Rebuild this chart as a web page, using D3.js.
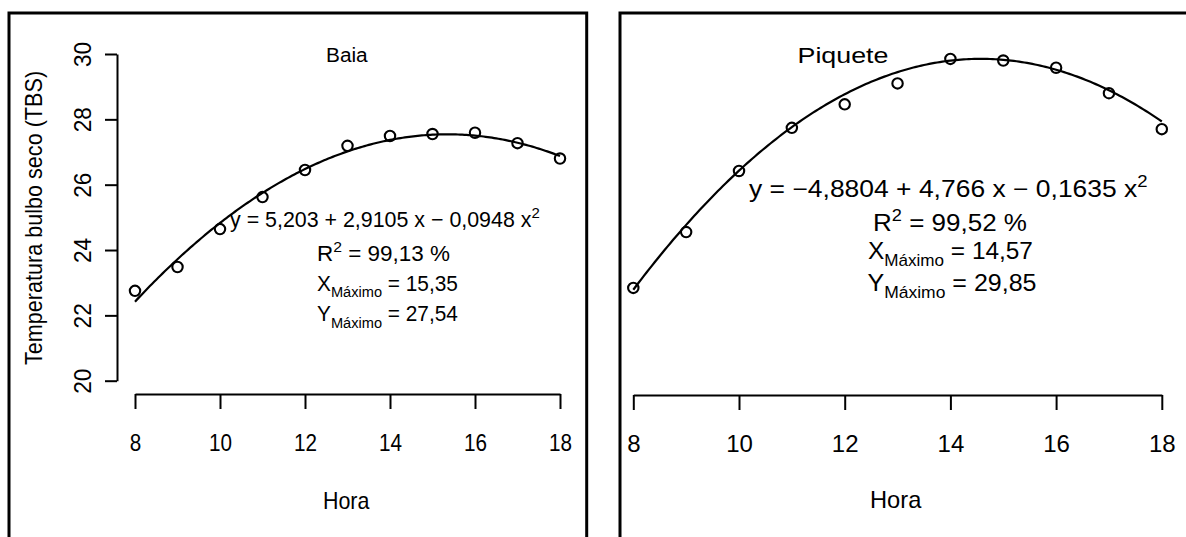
<!DOCTYPE html>
<html>
<head>
<meta charset="utf-8">
<script src="https://cdn.jsdelivr.net/npm/d3@7"></script>
<style>
  html, body { margin: 0; padding: 0; background: #ffffff; }
  svg { display: block; }
  text { font-family: "Liberation Sans", Arial, Helvetica, sans-serif; fill: #000; }
</style>
</head>
<body>
<script>
// ---------------- DATA ----------------
const hours = [8, 9, 10, 11, 12, 13, 14, 15, 16, 17, 18];
const baiaTBS = [22.75, 23.48, 24.64, 25.62, 26.45, 27.19, 27.49, 27.55, 27.59, 27.27, 26.80];
const piqueteTBS = [22.84, 24.55, 26.42, 27.74, 28.46, 29.10, 29.85, 29.80, 29.58, 28.80, 27.70];
const baiaCoef = [5.203, 2.9105, -0.0948];
const piqueteCoef = [-4.8804, 4.766, -0.1635];
const xTicks = [8, 10, 12, 14, 16, 18];
const yTicks = [20, 22, 24, 26, 28, 30];
const panelTitles = ["Baia", "Piquete"];
const xTitle = "Hora";
const yTitle = "Temperatura bulbo seco (TBS)";
const baiaStats = { eq: "y = 5,203 + 2,9105 x \u2212 0,0948 x", r2: " = 99,13 %", xmax: " = 15,35", ymax: " = 27,54" };
const piqueteStats = { eq: "y = \u22124,8804 + 4,766 x \u2212 0,1635 x", r2: " = 99,52 %", xmax: " = 14,57", ymax: " = 29,85" };

// ---------------- SETUP ----------------
const W = 1186, H = 537;
const svg = d3.select("body").append("svg").attr("width", W).attr("height", H);
svg.append("rect").attr("width", W).attr("height", H).attr("fill", "#fff");

const y = d3.scaleLinear().domain([20, 30]).range([380.7, 54]);
const xL = d3.scaleLinear().domain([8, 18]).range([135, 560]);
const xR = d3.scaleLinear().domain([8, 18]).range([633.3, 1161.8]);

// panel borders
svg.append("rect").attr("x", 9).attr("y", 13).attr("width", 577.7).attr("height", 600)
  .attr("fill", "none").attr("stroke", "#000").attr("stroke-width", 3);
svg.append("rect").attr("x", 620).attr("y", 13).attr("width", 700).attr("height", 600)
  .attr("fill", "none").attr("stroke", "#000").attr("stroke-width", 3);

// text helper: parts = [{t, k:'n'|'sup'|'sub'}]
function fitText(parts, cx, baseline, targetW, fs) {
  const t = svg.append("text").attr("font-size", fs).attr("x", 0).attr("y", 0);
  let shift = 0;
  parts.forEach(p => {
    const ts = t.append("tspan").text(p.t);
    let target = 0, size = fs;
    if (p.k === "sup") { target = -0.42 * fs; size = 0.7 * fs; }
    if (p.k === "sub") { target = 0.3 * fs; size = 0.7 * fs; }
    ts.attr("font-size", size).attr("dy", target - shift);
    shift = target;
  });
  const bb = t.node().getBBox();
  const s = targetW ? targetW / bb.width : 1;
  const w = targetW || bb.width;
  t.attr("transform", `translate(${cx - w / 2 - bb.x * s},${baseline}) scale(${s},1)`);
  return t;
}

function drawPanel(xs, vals, coef, opts) {
  // curve from regression coefficients
  const fx = h => coef[0] + coef[1] * h + coef[2] * h * h;
  const curveX = d3.range(8, 18.0001, 0.05);
  svg.append("path")
    .datum(curveX)
    .attr("d", d3.line().x(d => xs(d)).y(d => y(fx(d))).curve(d3.curveLinear))
    .attr("fill", "none").attr("stroke", "#000").attr("stroke-width", 2.2);
  // points
  svg.append("g").selectAll("circle").data(hours).join("circle")
    .attr("cx", (d) => xs(d)).attr("cy", (d, i) => y(vals[i]))
    .attr("r", 5.2).attr("fill", "none").attr("stroke", "#000").attr("stroke-width", 2.1);

  // x axis
  const gx = svg.append("g").attr("transform", `translate(0,${opts.axisY})`)
    .call(d3.axisBottom(xs).tickValues(xTicks).tickSize(15).tickSizeOuter(0).tickFormat(d3.format("d")));
  gx.select(".domain").attr("stroke", "#000").attr("stroke-width", 2);
  gx.selectAll(".tick line").attr("stroke", "#000").attr("stroke-width", 2);
  gx.selectAll(".tick text").attr("font-family", null).attr("font-size", opts.tickFs)
    .attr("y", 57).attr("dy", 0).attr("text-anchor", "middle")
    .attr("transform", `scale(${opts.tickSx},1)`);
}

// ---------- LEFT PANEL (Baia) ----------
drawPanel(xL, baiaTBS, baiaCoef, { axisY: 394, tickFs: 23.5, tickSx: 0.88 });
const gy = svg.append("g").attr("transform", "translate(117,0)")
  .call(d3.axisLeft(y).tickValues(yTicks).tickSize(12).tickSizeOuter(0).tickFormat(d3.format("d")));
gy.select(".domain").attr("stroke", "#000").attr("stroke-width", 2);
gy.selectAll(".tick line").attr("stroke", "#000").attr("stroke-width", 2);
gy.selectAll(".tick text").attr("font-family", null).attr("font-size", 23.5)
  .attr("x", 0).attr("y", 0).attr("dy", 0).attr("text-anchor", "middle")
  .attr("transform", "translate(-26,0) rotate(-90) scale(0.96,1)");

// y title (rotated)
svg.append("text").text(yTitle).attr("font-size", 23.5).attr("text-anchor", "middle")
  .attr("transform", "translate(41.5,218) rotate(-90) scale(0.92,1)");

fitText([{ t: panelTitles[0], k: "n" }], 347, 62, 42, 21);
fitText([{ t: xTitle, k: "n" }], 346.5, 509, 47, 24);

fitText([{ t: baiaStats.eq, k: "n" }, { t: "2", k: "sup" }], 385, 227, 310, 22);
fitText([{ t: "R", k: "n" }, { t: "2", k: "sup" }, { t: baiaStats.r2, k: "n" }], 383.5, 261, 133, 22);
fitText([{ t: "X", k: "n" }, { t: "Máximo", k: "sub" }, { t: baiaStats.xmax, k: "n" }], 387.5, 290.5, 141, 22);
fitText([{ t: "Y", k: "n" }, { t: "Máximo", k: "sub" }, { t: baiaStats.ymax, k: "n" }], 387.5, 321, 141, 22);

// ---------- RIGHT PANEL (Piquete) ----------
drawPanel(xR, piqueteTBS, piqueteCoef, { axisY: 395, tickFs: 24, tickSx: 1 });

fitText([{ t: panelTitles[1], k: "n" }], 843, 63, 91, 22);
fitText([{ t: xTitle, k: "n" }], 896, 508, 52, 24);

fitText([{ t: piqueteStats.eq, k: "n" }, { t: "2", k: "sup" }], 948.5, 197, 399, 23);
fitText([{ t: "R", k: "n" }, { t: "2", k: "sup" }, { t: piqueteStats.r2, k: "n" }], 950, 231, 154, 23);
fitText([{ t: "X", k: "n" }, { t: "Máximo", k: "sub" }, { t: piqueteStats.xmax, k: "n" }], 950.5, 259, 165, 23);
fitText([{ t: "Y", k: "n" }, { t: "Máximo", k: "sub" }, { t: piqueteStats.ymax, k: "n" }], 952, 291, 169, 23);
</script>
</body>
</html>
